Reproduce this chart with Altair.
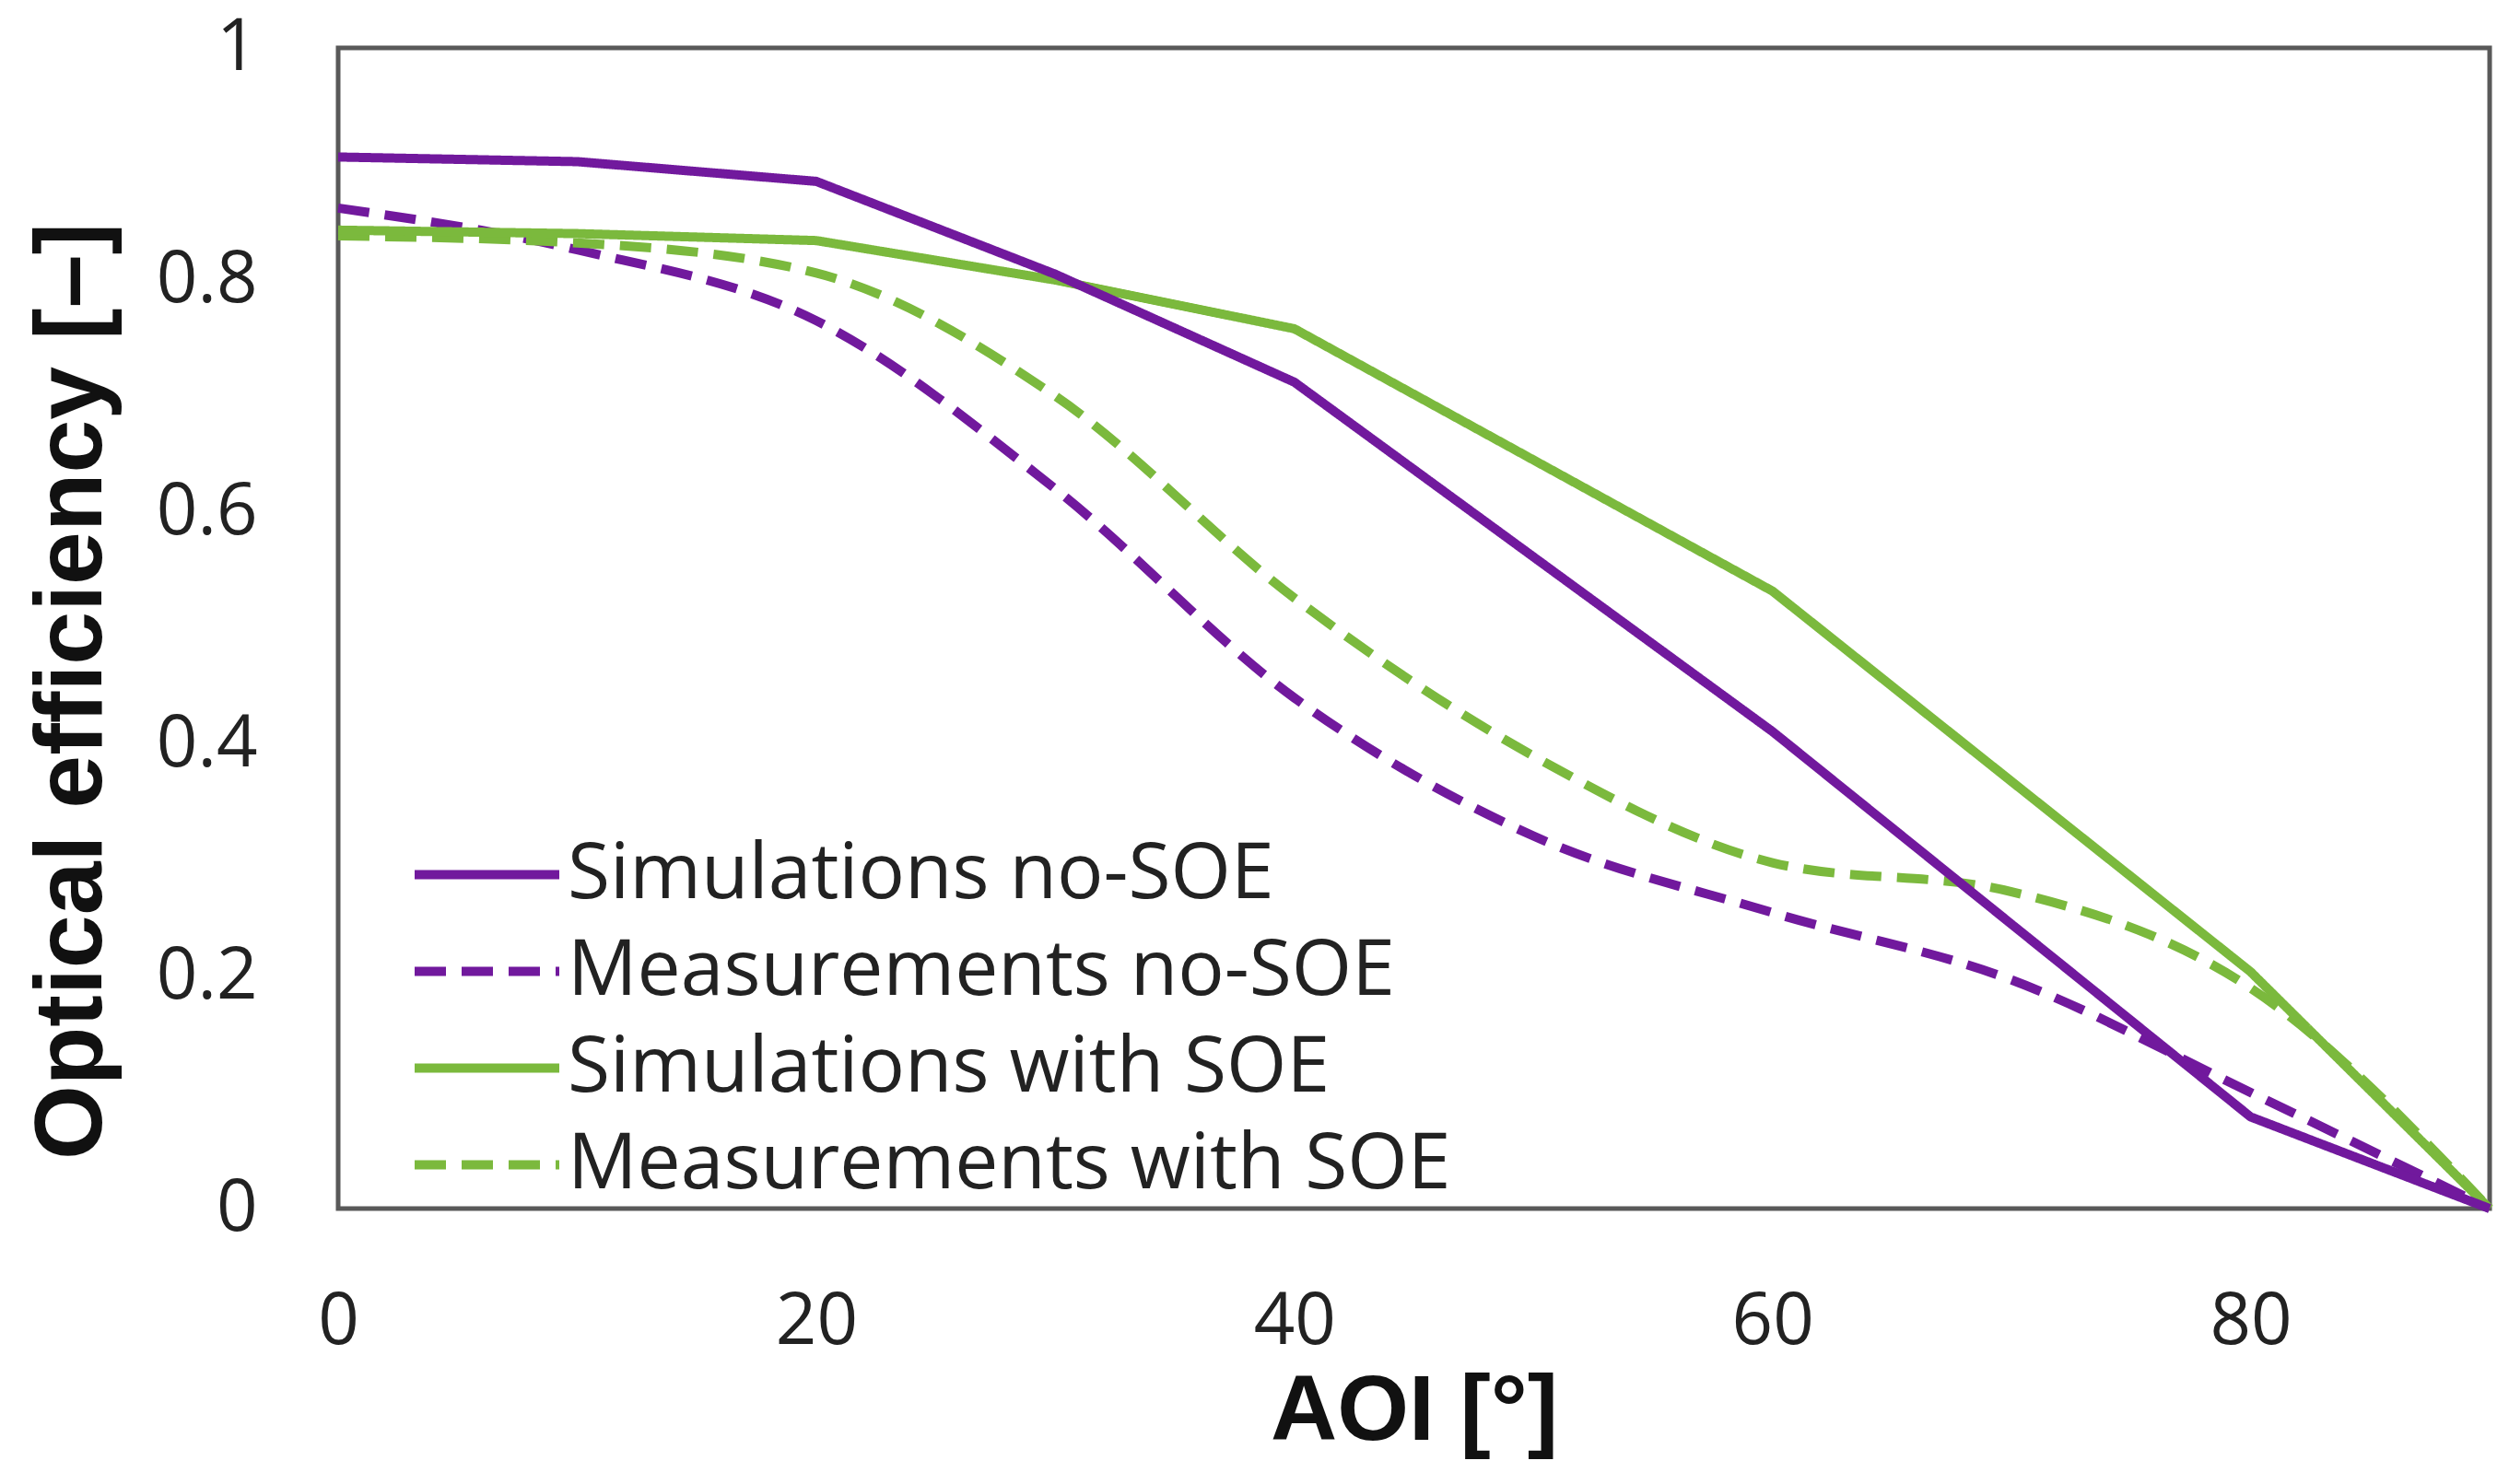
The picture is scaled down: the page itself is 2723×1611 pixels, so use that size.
import altair as alt
import pandas as pd

aoi_sim = [0, 10, 20, 30, 40, 60, 80, 90]
sim_no = [0.906, 0.902, 0.885, 0.805, 0.712, 0.411, 0.079, 0.0]
sim_with = [0.843, 0.840, 0.834, 0.800, 0.758, 0.532, 0.204, 0.0]
aoi_meas = [0, 10, 20, 30, 40, 50, 60, 70, 80, 90]
meas_no = [0.862, 0.826, 0.765, 0.620, 0.440, 0.321, 0.255, 0.197, 0.100, 0.0]
meas_with = [0.838, 0.832, 0.806, 0.700, 0.526, 0.390, 0.298, 0.273, 0.190, 0.0]

names = ["Simulations no-SOE", "Measurements no-SOE", "Simulations with SOE", "Measurements with SOE"]
colors = ["#71199D", "#71199D", "#7BB93D", "#7BB93D"]
dashes = [[1, 0], [34, 17], [1, 0], [34, 17]]

rows = []
for a, v in zip(aoi_sim, sim_no):
    rows.append({"aoi": a, "eff": v, "series": names[0]})
for a, v in zip(aoi_meas, meas_no):
    rows.append({"aoi": a, "eff": v, "series": names[1]})
for a, v in zip(aoi_sim, sim_with):
    rows.append({"aoi": a, "eff": v, "series": names[2]})
for a, v in zip(aoi_meas, meas_with):
    rows.append({"aoi": a, "eff": v, "series": names[3]})
df = pd.DataFrame(rows)

FONT = "Open Sans"

x = alt.X("aoi:Q", scale=alt.Scale(domain=[0, 90], nice=False),
          axis=alt.Axis(values=[0, 20, 40, 60, 80], title="AOI [°]", grid=False, ticks=False, domain=False,
                        labelFlush=False,
                        labelFont=FONT, labelFontSize=78, labelColor="#222222", labelPadding=84,
                        titleFont="Liberation Sans", titleFontWeight="bold", titleFontSize=100,
                        titleColor="#111111", titleY=220, titleBaseline="middle"))
y = alt.Y("eff:Q", scale=alt.Scale(domain=[0, 1], nice=False),
          axis=alt.Axis(values=[0, 0.2, 0.4, 0.6, 0.8, 1], format="~g", title="Optical efficiency [–]",
                        grid=False, ticks=False, domain=False, labelFlush=False,
                        labelFont=FONT, labelFontSize=78, labelColor="#222222", labelPadding=88,
                        titleFont="Liberation Sans", titleFontWeight="bold", titleFontSize=104,
                        titleColor="#111111", titleX=-289, titleY=698, titleAngle=-90,
                        titleAlign="center", titleBaseline="middle"))

legend = alt.Legend(title=None, orient="none", legendX=78, legendY=845, padding=0,
                    symbolType="stroke", symbolSize=24649, symbolStrokeWidth=10,
                    labelFont=FONT, labelFontSize=84, labelColor="#222222", labelOffset=4,
                    clipHeight=105, rowPadding=0, labelLimit=2000)

def mk(i, interp):
    sub = df[df.series == names[i]]
    return alt.Chart(sub).mark_line(strokeWidth=10, interpolate=interp).encode(
        x=x, y=y,
        color=alt.Color("series:N", scale=alt.Scale(domain=names, range=colors), legend=legend),
        strokeDash=alt.StrokeDash("series:N", scale=alt.Scale(domain=names, range=dashes), legend=legend),
    )

chart = alt.layer(
    mk(1, "monotone"), mk(3, "monotone"), mk(2, "linear"), mk(0, "linear")
).properties(
    width=2335, height=1260,
    autosize=alt.AutoSizeParams(type="none"),
    padding={"left": 359, "top": 44, "right": 13, "bottom": 280},
).configure(
    background="white",
    view=alt.ViewConfig(stroke="#595959", strokeWidth=5),
)

chart.save("out.html", embed_options={"renderer": "svg", "actions": False})
